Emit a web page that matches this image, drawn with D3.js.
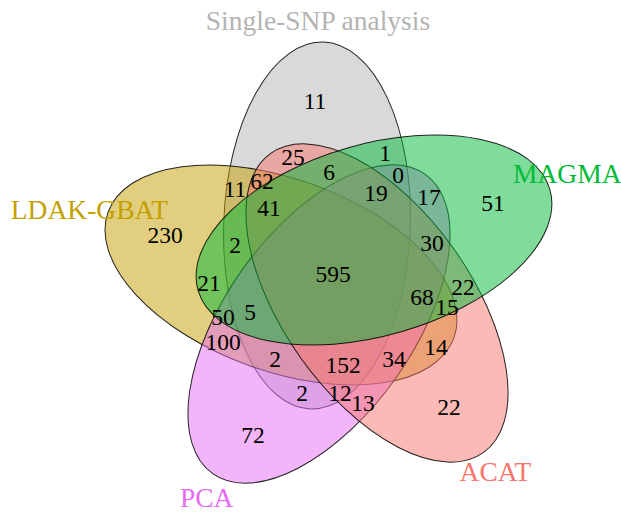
<!DOCTYPE html>
<html>
<head>
<meta charset="utf-8">
<script src="https://cdn.jsdelivr.net/npm/d3@7"></script>
<style>
  html, body { margin: 0; padding: 0; background: #fff; }
  svg { display: block; }
  svg text { font-family: "Liberation Serif", "DejaVu Serif", serif; }
</style>
</head>
<body>
<div id="chart"></div>
<script>
// ---- data ----
const categories = ["Single-SNP analysis", "LDAK-GBAT", "PCA", "ACAT", "MAGMA"];
const setColors = ["#B3B3B3", "#C4A000", "#E76BF3", "#F8766D", "#00BA38"];
// region counts (31 regions of the 5-set diagram)
const regionCounts = [11, 25, 1, 6, 0, 62, 11, 19, 17, 41, 51, 230, 2, 30, 21, 595,
                      22, 68, 15, 50, 5, 100, 2, 152, 34, 14, 2, 12, 13, 22, 72];

// ---- layout (design space 621 x 512) ----
const ellipseLayout = [
  { cx: 317, cy: 225.5, rx: 183.5, ry: 93.3, rot: -88 },
  { cx: 281, cy: 275,   rx: 184,   ry: 96,   rot: 20 },
  { cx: 319, cy: 324,   rx: 183.5, ry: 94,   rot: 125.4 },
  { cx: 377, cy: 303,   rx: 183.5, ry: 94,   rot: 54.6 },
  { cx: 374, cy: 240,   rx: 183,   ry: 95.8, rot: -16 }
];
const regionLabelPos = [
  [315, 101], [293, 157], [385, 153], [329, 172], [398, 175], [262, 181], [235, 189],
  [376, 193], [429, 197], [269, 208], [493, 203], [165, 235], [235, 245], [432, 243],
  [209, 283], [333, 274], [463, 287], [422, 297], [447, 307], [223, 317], [250, 312],
  [223, 342], [275, 359], [343, 365], [394, 359], [436, 347], [302, 393], [340, 393],
  [363, 403], [449, 407], [253, 435]
];
const categoryLabelPos = [[318, 30], [89.5, 218.5], [206.7, 506.5], [495.5, 480.5], [567.3, 183.3]];

const W = 621, H = 512;
const x = d3.scaleLinear().domain([0, 621]).range([0, W]);
const y = d3.scaleLinear().domain([0, 512]).range([0, H]);

const svg = d3.select("#chart").append("svg")
  .attr("width", W).attr("height", H);

const sets = categories.map((c, i) => ({ name: c, color: setColors[i], ...ellipseLayout[i] }));

svg.append("g").selectAll("ellipse")
  .data(sets)
  .join("ellipse")
  .attr("transform", d => `translate(${x(d.cx)},${y(d.cy)}) rotate(${d.rot})`)
  .attr("rx", d => x(d.rx) - x(0))
  .attr("ry", d => y(d.ry) - y(0))
  .attr("fill", d => d.color)
  .attr("fill-opacity", 0.5)
  .attr("stroke", "#000")
  .attr("stroke-opacity", 0.85)
  .attr("stroke-width", 1);

svg.append("g").selectAll("text")
  .data(regionCounts.map((v, i) => ({ v, p: regionLabelPos[i] })))
  .join("text")
  .attr("x", d => x(d.p[0]))
  .attr("y", d => y(d.p[1]))
  .attr("dy", "0.34em")
  .attr("text-anchor", "middle")
  .style("font-family", "'Liberation Serif', 'DejaVu Serif', serif")
  .attr("font-size", 23.5)
  .attr("fill", "#000")
  .text(d => d.v);

svg.append("g").selectAll("text")
  .data(sets.map((s, i) => ({ ...s, p: categoryLabelPos[i] })))
  .join("text")
  .attr("x", d => x(d.p[0]))
  .attr("y", d => y(d.p[1]))
  .attr("text-anchor", "middle")
  .style("font-family", "'Liberation Serif', 'DejaVu Serif', serif")
  .attr("font-size", 27.5)
  .attr("fill", d => d.color)
  .text(d => d.name);
</script>
</body>
</html>
